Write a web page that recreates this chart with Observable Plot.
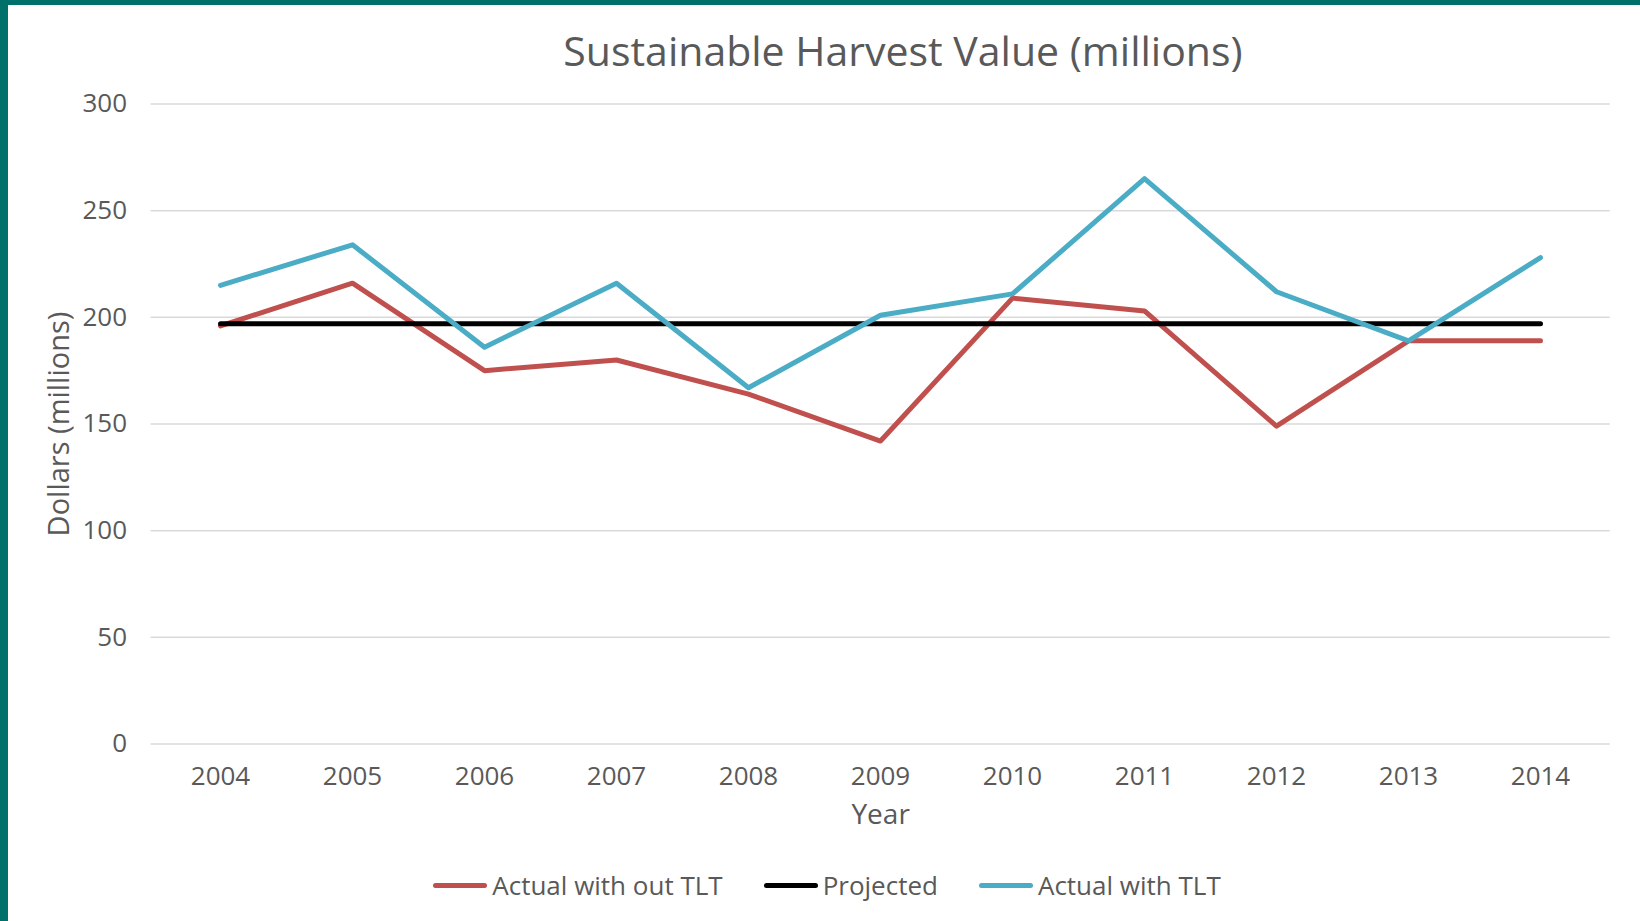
<!DOCTYPE html>
<html>
<head>
<meta charset="utf-8">
<script src="https://cdn.jsdelivr.net/npm/d3@7"></script>
<script src="https://cdn.jsdelivr.net/npm/@observablehq/plot@0.6"></script>
<style>
  html, body { margin: 0; padding: 0; background: #fff; overflow: hidden; }
  #page { position: relative; width: 1640px; height: 921px; box-sizing: border-box;
          border-left: 8px solid #00716a; border-top: 5px solid #00716a; background: #fff;
          font-family: "Open Sans", sans-serif; color: #595959; }
  #title { position: absolute; left: 395px; top: 20px; width: 1000px; text-align: center;
           font-size: 41px; line-height: 50px; color: #595959; }
  #chart { position: absolute; left: -8px; top: 75px; }
  #legend { position: absolute; left: 3px; width: 1632px; top: 863px; display: flex; justify-content: center;
            font-size: 26px; line-height: 34px; color: #595959; }
  .item { display: flex; align-items: center; margin: 0 20.5px; }
  .sw { width: 54px; height: 5px; border-radius: 3px; margin-right: 5px; }
</style>
</head>
<body>
<div id="page">
  <div id="title">Sustainable Harvest Value (millions)</div>
  <div id="chart"></div>
  <div id="legend"></div>
</div>
<script>
const years = ["2004","2005","2006","2007","2008","2009","2010","2011","2012","2013","2014"];
const actualWithoutTLT = [196, 216, 175, 180, 164, 142, 209, 203, 149, 189, 189];
const projected = [197, 197, 197, 197, 197, 197, 197, 197, 197, 197, 197];
const actualWithTLT = [215, 234, 186, 216, 167, 201, 211, 265, 212, 189, 228];
const yTicks = [0, 50, 100, 150, 200, 250, 300];
const seriesNames = ["Actual with out TLT", "Projected", "Actual with TLT"];
const seriesColors = ["#c0504d", "#000000", "#4bacc6"];
const xTitle = "Year";
const yTitle = "Dollars (millions)";

const seriesValues = [actualWithoutTLT, projected, actualWithTLT];
const rows = [];
seriesNames.forEach((name, s) => {
  years.forEach((yr, i) => rows.push({series: name, year: yr, value: seriesValues[s][i]}));
});

const lineStyle = {strokeWidth: 5, strokeLinecap: "round", strokeLinejoin: "round"};

const chart = Plot.plot({
  width: 1640,
  height: 760,
  marginTop: 23.5,
  marginBottom: 96.5,
  marginLeft: 150.6,
  marginRight: 30.3,
  style: {fontFamily: "Open Sans, sans-serif", fontSize: "26px", color: "#595959", background: "transparent", overflow: "visible"},
  x: {type: "point", domain: years, padding: 0.5},
  y: {domain: [0, 300]},
  marks: [
    Plot.gridY(yTicks, {stroke: "#d9d9d9", strokeOpacity: 1, strokeWidth: 1.5}),
    Plot.axisY(yTicks, {tickSize: 0, tickPadding: 24, label: null, fill: "#595959"}),
    Plot.axisX({tickSize: 0, tickPadding: 23, label: null, fill: "#595959"}),
    Plot.text([yTitle], {text: d => d, frameAnchor: "left", textAnchor: "middle", lineAnchor: "middle", rotate: -90, dx: -91, fontSize: 29, fill: "#595959"}),
    Plot.text([xTitle], {text: d => d, frameAnchor: "bottom", textAnchor: "middle", lineAnchor: "middle", dy: 71, fontSize: 28, fill: "#595959"}),
    ...seriesNames.map((name, s) =>
      Plot.line(rows.filter(r => r.series === name), {x: "year", y: "value", stroke: seriesColors[s], ...lineStyle})
    )
  ]
});
document.getElementById("chart").appendChild(chart);

const legend = document.getElementById("legend");
seriesNames.forEach((name, s) => {
  const it = document.createElement("div");
  it.className = "item";
  const sw = document.createElement("span");
  sw.className = "sw";
  sw.style.background = seriesColors[s];
  const tx = document.createElement("span");
  tx.textContent = name;
  it.appendChild(sw); it.appendChild(tx);
  legend.appendChild(it);
});
</script>
</body>
</html>
